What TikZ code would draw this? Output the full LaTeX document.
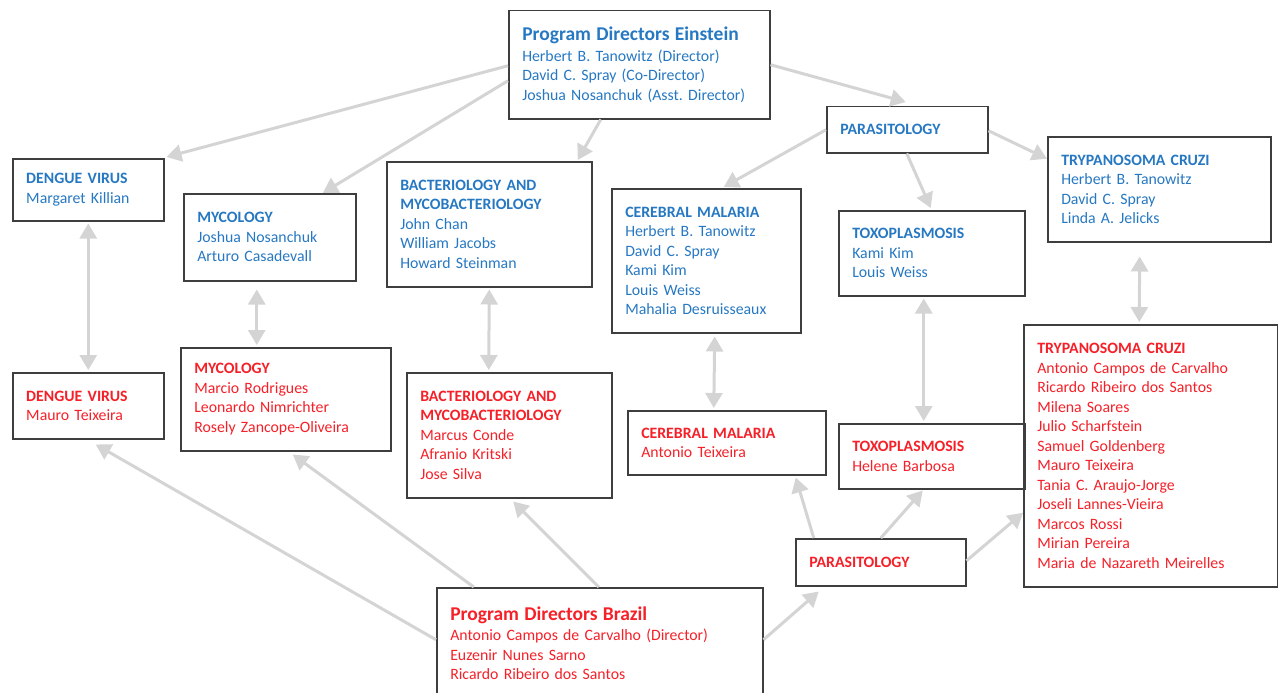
\documentclass[tikz,border=0pt]{standalone}
\usepackage{fontspec}
\setmainfont{Carlito}
\usetikzlibrary{arrows.meta}
\definecolor{einblue}{RGB}{38,120,194}
\definecolor{brred}{RGB}{245,32,40}
\definecolor{conngray}{RGB}{212,212,212}
\definecolor{boxgray}{RGB}{62,62,62}
\frenchspacing
\begin{document}
\begin{tikzpicture}[x=1pt,y=-1pt]
	\tikzstyle{e-box}=[draw=boxgray,line width=1.5pt,anchor=north west,align=left,inner xsep=13.5pt,inner ysep=0pt,text=einblue,font=\fontsize{15.8}{19.5}\selectfont]
	\tikzstyle{b-box}=[e-box,text=brred]
	\tikzstyle{conn}=[draw=conngray,line width=3pt,-{Triangle[length=15pt,width=17pt]}]
	\tikzstyle{conn-2}=[draw=conngray,line width=3pt,{Triangle[length=15pt,width=17pt]}-{Triangle[length=15pt,width=17pt]},shorten <=2pt,shorten >=2pt]
	\useasboundingbox (0,0) rectangle (1278,693);

	% Einstein side
	\node[e-box,text width=234pt,minimum height=108pt] 	(ein)	at (508,10)	{{\fontsize{19.5}{22}\selectfont\bfseries Program Directors Einstein}\\[1pt]Herbert B. Tanowitz (Director)\\David C. Spray (Co-Director)\\Joshua Nosanchuk (Asst. Director)};
	\node[e-box,text width=134pt,minimum height=46pt] 	(parb)	at (826,106)	{\textbf{PARASITOLOGY}};
	\node[e-box,text width=124pt,minimum height=62pt] 	(dgb)	at (12,158)	{\textbf{DENGUE VIRUS}\\Margaret Killian};
	\node[e-box,text width=145pt,minimum height=87pt] 	(myb)	at (183,193)	{\textbf{MYCOLOGY}\\Joshua Nosanchuk\\Arturo Casadevall};
	\node[e-box,text width=178pt,minimum height=125pt] 	(bab)	at (386,161)	{\textbf{BACTERIOLOGY AND}\\\textbf{MYCOBACTERIOLOGY}\\John Chan\\William Jacobs\\Howard Steinman};
	\node[e-box,text width=162pt,minimum height=144pt] 	(cmb)	at (611,188)	{\textbf{CEREBRAL MALARIA}\\Herbert B. Tanowitz\\David C. Spray\\Kami Kim\\Louis Weiss\\Mahalia Desruisseaux};
	\node[e-box,text width=159pt,minimum height=85pt] 	(txb)	at (838,210)	{\textbf{TOXOPLASMOSIS}\\Kami Kim\\Louis Weiss};
	\node[e-box,text width=196pt,minimum height=105pt] 	(trb)	at (1047,136)	{\textbf{TRYPANOSOMA CRUZI}\\Herbert B. Tanowitz\\David C. Spray\\Linda A. Jelicks};

	% Brazil side
	\node[b-box,text width=124pt,minimum height=66pt] 	(dgr)	at (12,372)	{\textbf{DENGUE VIRUS}\\Mauro Teixeira};
	\node[b-box,text width=183pt,minimum height=103pt] 	(myr)	at (180,347)	{\textbf{MYCOLOGY}\\Marcio Rodrigues\\Leonardo Nimrichter\\Rosely Zancope-Oliveira};
	\node[b-box,text width=178pt,minimum height=125pt] 	(bar)	at (406,372)	{\textbf{BACTERIOLOGY AND}\\\textbf{MYCOBACTERIOLOGY}\\Marcus Conde\\Afranio Kritski\\Jose Silva};
	\node[b-box,text width=171pt,minimum height=64pt] 	(cmr)	at (627,410)	{\textbf{CEREBRAL MALARIA}\\Antonio Teixeira};
	\node[b-box,text width=159pt,minimum height=65pt] 	(txr)	at (838,423)	{\textbf{TOXOPLASMOSIS}\\Helene Barbosa};
	\node[b-box,text width=227pt,minimum height=262pt] 	(trr)	at (1023,324)	{\textbf{TRYPANOSOMA CRUZI}\\Antonio Campos de Carvalho\\Ricardo Ribeiro dos Santos\\Milena Soares\\Julio Scharfstein\\Samuel Goldenberg\\Mauro Teixeira\\Tania C. Araujo-Jorge\\Joseli Lannes-Vieira\\Marcos Rossi\\Mirian Pereira\\Maria de Nazareth Meirelles};
	\node[b-box,text width=143pt,minimum height=47pt] 	(parr)	at (795,538)	{\textbf{PARASITOLOGY}};
	\node[b-box,text width=299pt,minimum height=111pt] 	(bz)	at (436,587)	{{\fontsize{19.5}{22}\selectfont\bfseries Program Directors Brazil}\\[1pt]Antonio Campos de Carvalho (Director)\\Euzenir Nunes Sarno\\Ricardo Ribeiro dos Santos};

	% Einstein arrows
	\draw[conn] ([yshift=-1pt]ein.west) -- ([xshift=2pt,yshift=1pt]dgb.north east);
	\draw[conn] ([yshift=-16pt]ein.west) -- ([xshift=53pt]myb.north);
	\draw[conn] ([xshift=-38.5pt]ein.south) -- ([xshift=88.5pt,yshift=1pt]bab.north);
	\draw[conn] (ein.east) -- ([xshift=-1.5pt,yshift=4pt]parb.north);
	\draw[conn] (parb.west) -- ([xshift=17.5pt,yshift=1pt]cmb.north);
	\draw[conn] ([xshift=-0.5pt]parb.south) -- ([xshift=-1pt,yshift=2pt]txb.north);
	\draw[conn] ([yshift=-1pt]parb.east) -- ([yshift=30.5pt]trb.west);

	% Brazil arrows
	\draw[conn] ([yshift=3.5pt]bz.west) -- ([xshift=7.5pt,yshift=-5pt]dgr.south);
	\draw[conn] ([xshift=-126pt]bz.north) -- ([xshift=7pt,yshift=-3pt]myr.south);
	\draw[conn] ([xshift=-1pt]bz.north) -- ([xshift=4pt,yshift=-3pt]bar.south);
	\draw[conn] ([yshift=3.5pt]bz.east) -- ([xshift=-62pt,yshift=-5pt]parr.south);
	\draw[conn] ([xshift=-67pt]parr.north) -- ([xshift=69pt,yshift=-2pt]cmr.south);
	\draw[conn] (parr.north) -- ([xshift=-9pt,yshift=-1pt]txr.south);
	\draw[conn] ([yshift=1.5pt]parr.east) -- ([yshift=-57pt]trr.west);

	% both ways
	\draw[conn-2] (dgb.south) -- (dgr.north);
	\draw[conn-2,shorten <=8pt] ([xshift=-13pt]myb.south) -- ([xshift=-29pt]myr.north);
	\draw[conn-2] (bab.south) -- ([xshift=-20.5pt]bar.north);
	\draw[conn-2,shorten <=3pt] ([xshift=8.5pt]cmb.south) -- ([xshift=-13pt]cmr.north);
	\draw[conn-2] ([xshift=-8pt]txb.south) -- ([xshift=-8pt]txr.north);
	\draw[conn-2,shorten <=14pt] ([xshift=-19.5pt]trb.south) -- ([xshift=-11.5pt]trr.north);
\end{tikzpicture}
\end{document}
